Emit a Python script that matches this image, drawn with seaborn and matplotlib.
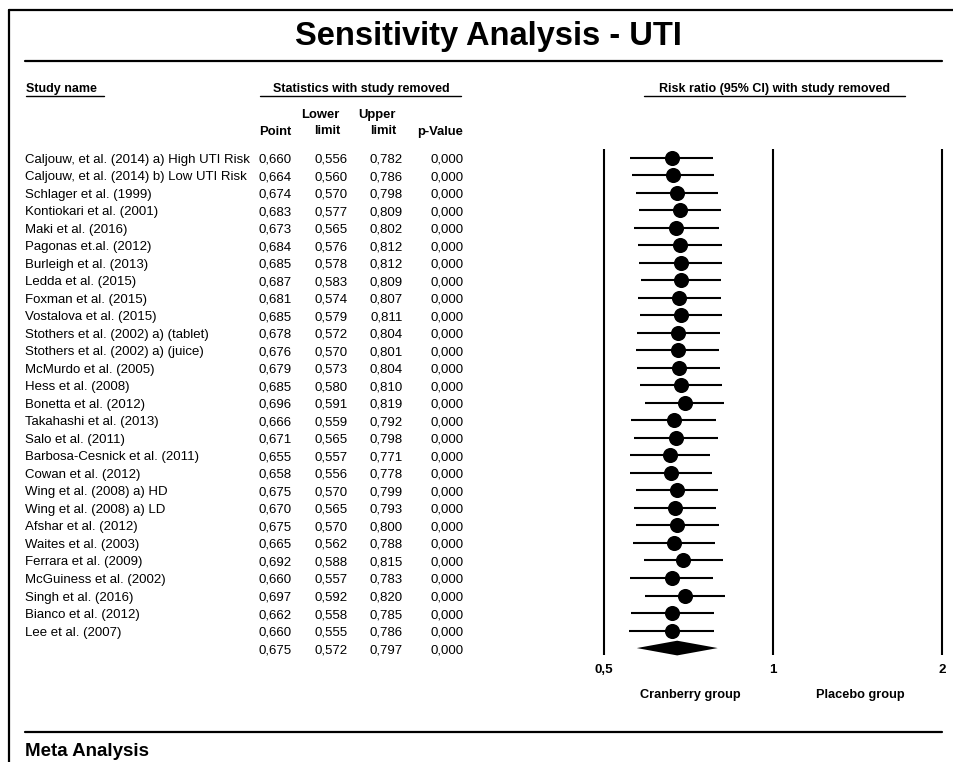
import numpy as np
import pandas as pd
import matplotlib
matplotlib.use("Agg")
import matplotlib.pyplot as plt
import seaborn as sns

# ---------------- data ----------------
studies = [
    "Caljouw, et al. (2014) a) High UTI Risk",
    "Caljouw, et al. (2014) b) Low UTI Risk",
    "Schlager et al. (1999)",
    "Kontiokari et al. (2001)",
    "Maki et al. (2016)",
    "Pagonas et.al. (2012)",
    "Burleigh et al. (2013)",
    "Ledda et al. (2015)",
    "Foxman et al. (2015)",
    "Vostalova et al. (2015)",
    "Stothers et al. (2002) a) (tablet)",
    "Stothers et al. (2002) a) (juice)",
    "McMurdo et al. (2005)",
    "Hess et al. (2008)",
    "Bonetta et al. (2012)",
    "Takahashi et al. (2013)",
    "Salo et al. (2011)",
    "Barbosa-Cesnick et al. (2011)",
    "Cowan et al. (2012)",
    "Wing et al. (2008) a) HD",
    "Wing et al. (2008) a) LD",
    "Afshar et al. (2012)",
    "Waites et al. (2003)",
    "Ferrara et al. (2009)",
    "McGuiness et al. (2002)",
    "Singh et al. (2016)",
    "Bianco et al. (2012)",
    "Lee et al. (2007)",
]
point = [0.660, 0.664, 0.674, 0.683, 0.673, 0.684, 0.685, 0.687, 0.681, 0.685,
         0.678, 0.676, 0.679, 0.685, 0.696, 0.666, 0.671, 0.655, 0.658, 0.675,
         0.670, 0.675, 0.665, 0.692, 0.660, 0.697, 0.662, 0.660]
lower = [0.556, 0.560, 0.570, 0.577, 0.565, 0.576, 0.578, 0.583, 0.574, 0.579,
         0.572, 0.570, 0.573, 0.580, 0.591, 0.559, 0.565, 0.557, 0.556, 0.570,
         0.565, 0.570, 0.562, 0.588, 0.557, 0.592, 0.558, 0.555]
upper = [0.782, 0.786, 0.798, 0.809, 0.802, 0.812, 0.812, 0.809, 0.807, 0.811,
         0.804, 0.801, 0.804, 0.810, 0.819, 0.792, 0.798, 0.771, 0.778, 0.799,
         0.793, 0.800, 0.788, 0.815, 0.783, 0.820, 0.785, 0.786]
pvalue = [0.000] * 28

summary_point = 0.675
summary_lower = 0.572
summary_upper = 0.797
summary_p = 0.000

axis_ticks = [0.5, 1, 2]
axis_tick_labels = ["0,5", "1", "2"]

df = pd.DataFrame({"study": studies, "point": point, "lower": lower,
                   "upper": upper, "p": pvalue})
df["row"] = np.arange(len(df))
summary_row = len(df)

# ---------------- figure ----------------
sns.set_theme(style="white")
plt.rcParams["font.family"] = ["Liberation Sans", "DejaVu Sans"]
plt.rcParams["text.color"] = "black"

W, H = 954, 762
fig = plt.figure(figsize=(W / 100, H / 100), dpi=100)

# overlay axes in pixel coordinates for frame & text
ax0 = fig.add_axes([0, 0, 1, 1])
ax0.set_xlim(0, W)
ax0.set_ylim(H, 0)
ax0.axis("off")

row0, dy = 157.5, 17.52


def rowpix(r):
    return row0 + dy * r


def fmt(v):
    return f"{v:.3f}".replace(".", ",")


# frame lines
ax0.plot([9, 9], [10, H], color="black", lw=1.6)
ax0.plot([9, W], [10, 10], color="black", lw=1.6)
ax0.plot([25, 942], [61, 61], color="black", lw=1.6)
ax0.plot([25, 942], [732, 732], color="black", lw=1.6)

# title
ax0.text(488, 36, "Sensitivity Analysis - UTI", ha="center", va="center",
         fontsize=23.5, fontweight="bold")
ax0.text(25, 752, "Meta Analysis", ha="left", va="center",
         fontsize=13.5, fontweight="bold")

# section headers with underline
hdr_fs = 9.0
ax0.text(26, 89, "Study name", ha="left", va="center", fontsize=hdr_fs, fontweight="bold")
ax0.plot([26, 104], [96, 96], color="black", lw=1.0)
ax0.text(361, 89, "Statistics with study removed", ha="center", va="center",
         fontsize=hdr_fs, fontweight="bold")
ax0.plot([260, 461], [96, 96], color="black", lw=1.0)
ax0.text(775, 89, "Risk ratio (95% CI) with study removed", ha="center", va="center",
         fontsize=hdr_fs, fontweight="bold")
ax0.plot([644, 905], [96, 96], color="black", lw=1.0)

# column headers
col_fs = 9.4
col_hdr_x = [291, 340, 396, 463]
ax0.text(col_hdr_x[0], 132, "Point", ha="right", va="center", fontsize=col_fs, fontweight="bold")
ax0.text(col_hdr_x[1], 115, "Lower", ha="right", va="center", fontsize=col_fs, fontweight="bold")
ax0.text(col_hdr_x[1], 131, "limit", ha="right", va="center", fontsize=col_fs, fontweight="bold")
ax0.text(col_hdr_x[2], 115, "Upper", ha="right", va="center", fontsize=col_fs, fontweight="bold")
ax0.text(col_hdr_x[2], 131, "limit", ha="right", va="center", fontsize=col_fs, fontweight="bold")
ax0.text(col_hdr_x[3], 132, "p-Value", ha="right", va="center", fontsize=col_fs, fontweight="bold")

# table rows
row_fs = 9.5
col_x = [292, 348, 403, 464]
for _, r in df.iterrows():
    yb = rowpix(r["row"]) + 5.0
    ax0.text(25, yb, r["study"], ha="left", va="baseline", fontsize=row_fs)
    for cx, key in zip(col_x, ["point", "lower", "upper", "p"]):
        ax0.text(cx, yb, fmt(r[key]), ha="right", va="baseline", fontsize=row_fs)
yb = rowpix(summary_row) + 5.0
for cx, v in zip(col_x, [summary_point, summary_lower, summary_upper, summary_p]):
    ax0.text(cx, yb, fmt(v), ha="right", va="baseline", fontsize=row_fs)

# ---------------- forest plot axes ----------------
x_left_px, x_right_px = 590, 952
y_top_px, y_bot_px = 140, 660
axf = fig.add_axes([x_left_px / W, 1 - y_bot_px / H,
                    (x_right_px - x_left_px) / W, (y_bot_px - y_top_px) / H])
axf.set_facecolor("none")
axf.set_xscale("log", base=2)
px_per_oct = (942 - 604) / 2.0


def px_to_x(px):
    return 2 ** ((px - 604) / px_per_oct - 1)


axf.set_xlim(px_to_x(x_left_px), px_to_x(x_right_px))
axf.set_ylim((y_bot_px - row0) / dy, (y_top_px - row0) / dy)
axf.axis("off")

# reference lines
axf.vlines(axis_ticks, (149 - row0) / dy, (655 - row0) / dy, color="black", lw=1.5)

# CIs
axf.hlines(df["row"], df["lower"], df["upper"], color="black", lw=1.5, zorder=2)
# points
sns.scatterplot(data=df, x="point", y="row", ax=axf, color="black", s=118,
                linewidth=0, legend=False, zorder=3)
# summary diamond
axf.fill([summary_lower, summary_point, summary_upper, summary_point],
         [summary_row, summary_row - 0.42, summary_row, summary_row + 0.42],
         color="black", lw=0, zorder=3)

# tick labels
for t, lab in zip(axis_ticks, axis_tick_labels):
    ax0.text(604 + px_per_oct * (np.log2(t) + 1), 670, lab, ha="center", va="center",
             fontsize=9.6, fontweight="bold")

ax0.text(690, 695, "Cranberry group", ha="center", va="center", fontsize=9.2, fontweight="bold")
ax0.text(860, 695, "Placebo group", ha="center", va="center", fontsize=9.2, fontweight="bold")

fig.savefig("out.png", dpi=100)
